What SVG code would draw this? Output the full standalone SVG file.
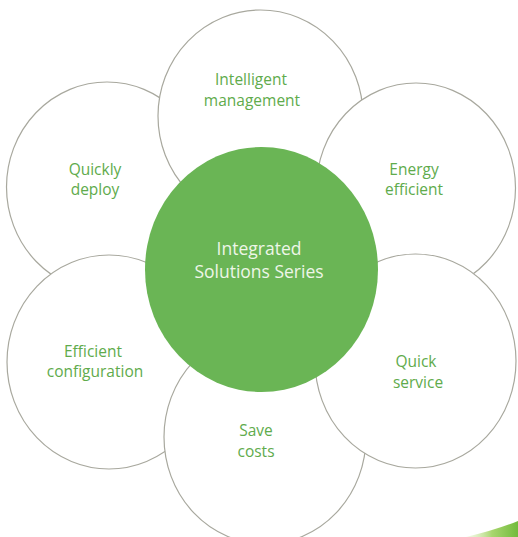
<svg xmlns="http://www.w3.org/2000/svg" width="518" height="537" viewBox="0 0 518 537">
  <defs>
    <style>
      .petal { fill: #ffffff; stroke: #a8a89e; stroke-width: 1.2; }
      .lbl { font-family: "Open Sans", "Noto Sans", "Liberation Sans", sans-serif; font-size: 15.5px; fill: #60ab4c; text-anchor: middle; }
      .hub { fill: #6ab555; }
      .hublbl { font-family: "Open Sans", "Noto Sans", "Liberation Sans", sans-serif; font-size: 17.5px; fill: #eef6e8; text-anchor: middle; }
    </style>
    <linearGradient id="swoosh" x1="0" y1="0" x2="1" y2="0">
      <stop offset="0" stop-color="#e4f2c8" stop-opacity="0.4"/>
      <stop offset="0.5" stop-color="#a9d66e"/>
      <stop offset="1" stop-color="#72bb3c"/>
    </linearGradient>
  </defs>
  <rect width="518" height="537" fill="#ffffff"/>

  <g id="connectors"/>

  <g id="node-quickly-deploy">
    <ellipse class="petal" cx="107" cy="187" rx="100.5" ry="105"/>
    <text class="lbl" x="95" y="175">Quickly</text>
    <text class="lbl" x="95" y="195">deploy</text>
  </g>

  <g id="node-intelligent-management">
    <ellipse class="petal" cx="260.5" cy="116" rx="102.5" ry="106"/>
    <text class="lbl" x="251" y="85">Intelligent</text>
    <text class="lbl" x="252" y="106">management</text>
  </g>

  <g id="node-energy-efficient">
    <ellipse class="petal" cx="416" cy="188" rx="99.5" ry="105"/>
    <text class="lbl" x="414" y="175">Energy</text>
    <text class="lbl" x="414" y="195">efficient</text>
  </g>

  <g id="node-efficient-configuration">
    <ellipse class="petal" cx="109" cy="362" rx="102" ry="107"/>
    <text class="lbl" x="93" y="357">Efficient</text>
    <text class="lbl" x="95" y="377">configuration</text>
  </g>

  <g id="node-save-costs">
    <ellipse class="petal" cx="265" cy="437" rx="101" ry="107"/>
    <text class="lbl" x="256" y="436">Save</text>
    <text class="lbl" x="256" y="457">costs</text>
  </g>

  <g id="node-quick-service">
    <ellipse class="petal" cx="415.5" cy="361" rx="100.5" ry="107"/>
    <text class="lbl" x="416" y="367">Quick</text>
    <text class="lbl" x="418" y="388">service</text>
  </g>

  <g id="node-integrated-solutions-series">
    <ellipse class="hub" cx="261.5" cy="269.5" rx="116.5" ry="122.5"/>
    <text class="hublbl" x="259" y="255">Integrated</text>
    <text class="hublbl" x="259" y="278">Solutions Series</text>
  </g>

  <path d="M 466 537 Q 496 530 518 521 L 518 537 Z" fill="url(#swoosh)"/>
</svg>
